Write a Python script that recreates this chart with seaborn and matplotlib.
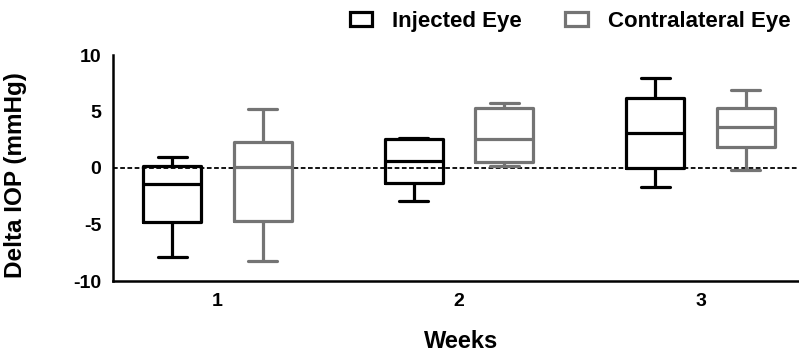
import pandas as pd
import matplotlib
matplotlib.use("Agg")
import matplotlib.pyplot as plt
from matplotlib.patches import Patch
import seaborn as sns

# =========================
# DATOS (min, Q1, mediana, Q3, max por grupo)
# =========================

weeks = ["1", "2", "3"]
eyes = ["Injected Eye", "Contralateral Eye"]

injected_w1 = [-7.85, -4.75, -1.4, 0.2, 1.0]
injected_w2 = [-2.9, -1.35, 0.65, 2.54, 2.68]
injected_w3 = [-1.65, 0.0, 3.07, 6.2, 8.0]

contra_w1 = [-8.2, -4.7, 0.05, 2.33, 5.2]
contra_w2 = [0.18, 0.5, 2.54, 5.28, 5.72]
contra_w3 = [-0.18, 1.88, 3.65, 5.34, 6.9]

y_ticks = [-10, -5, 0, 5, 10]

groups = {
    ("1", "Injected Eye"): injected_w1,
    ("2", "Injected Eye"): injected_w2,
    ("3", "Injected Eye"): injected_w3,
    ("1", "Contralateral Eye"): contra_w1,
    ("2", "Contralateral Eye"): contra_w2,
    ("3", "Contralateral Eye"): contra_w3,
}

rows = []
for (wk, eye), vals in groups.items():
    for v in vals:
        rows.append({"Week": wk, "Eye": eye, "IOP": v})
df = pd.DataFrame(rows)

colors = {"Injected Eye": "#000000", "Contralateral Eye": "#747474"}

# =========================
# FIGURA
# =========================

sns.set_style("white")
plt.rcParams["font.family"] = ["Liberation Sans", "DejaVu Sans"]
plt.rcParams["axes.unicode_minus"] = False
plt.rcParams["text.color"] = "black"
plt.rcParams["axes.labelcolor"] = "black"
plt.rcParams["xtick.color"] = "black"
plt.rcParams["ytick.color"] = "black"

fig = plt.figure(figsize=(7.99, 3.6), dpi=100)
ax = fig.add_axes([113 / 799, 79 / 360, 686 / 799, 226 / 360])

ax.axhline(0, color="black", lw=1.3, ls=(0, (2.6, 1.4)), zorder=0)

sns.boxplot(
    data=df,
    x="Week",
    y="IOP",
    hue="Eye",
    order=weeks,
    hue_order=eyes,
    palette=colors,
    fill=False,
    whis=(0, 100),
    width=0.75,
    gap=0.36,
    linewidth=2.3,
    legend=False,
    ax=ax,
)

ax.set_xlim(-0.433, 2.407)
ax.set_ylim(-10, 10)
ax.set_yticks(y_ticks)
ax.set_yticklabels([str(t) for t in y_ticks])

for s in ["top", "right"]:
    ax.spines[s].set_visible(False)
for s in ["left", "bottom"]:
    ax.spines[s].set_linewidth(1.8)
    ax.spines[s].set_color("black")

ax.tick_params(axis="both", length=5, width=1.8, color="black",
               labelcolor="black", labelsize=14, direction="out")
for lab in ax.get_xticklabels() + ax.get_yticklabels():
    lab.set_fontweight("bold")

ax.set_xlabel("Weeks", fontsize=17, fontweight="bold")
ax.set_ylabel("Delta IOP (mmHg)", fontsize=17.5, fontweight="bold")
ax.xaxis.set_label_coords(0.507, -0.215)
ax.yaxis.set_label_coords(-0.125, 0.47)

handles = [
    Patch(facecolor="white", edgecolor=colors[e], linewidth=2.3, label=e)
    for e in eyes
]
fig.legend(
    handles=handles,
    loc="upper right",
    bbox_to_anchor=(1.014, 1.025),
    ncol=2,
    frameon=False,
    prop={"weight": "bold", "size": 16},
    handlelength=1.0,
    handleheight=0.6,
    handletextpad=0.9,
    columnspacing=1.95,
)

fig.savefig("out.png", dpi=100)
